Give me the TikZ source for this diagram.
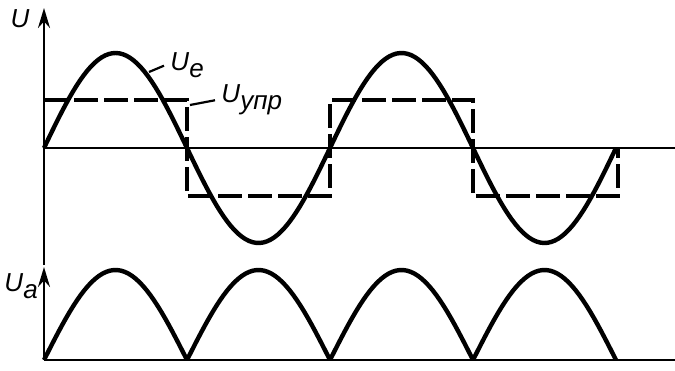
\documentclass[tikz,border=0pt]{standalone}
\usepackage{fontspec}
\setmainfont{Liberation Sans}
\usetikzlibrary{arrows.meta}

\newcommand{\volt}[1]{\textit{U}\raisebox{-3.5pt}{\itshape #1}}

\begin{document}
\begin{tikzpicture}[>={Stealth[length=10pt,width=6pt]}, x=0.5pt, y=0.5pt,
    axis/.style={line width=1.1pt},
    wave/.style={line width=2.2pt, line join=round},
    ctrl/.style={line width=1.6pt, dash pattern=on 12pt off 3pt},
    lbl/.style={font=\fontsize{13}{14}\selectfont, inner sep=0pt}]
  \useasboundingbox (0,0) rectangle (675,370);

  % Upper diagram: input voltage and control signal
  \draw[axis, ->] (44,105) -- (44,362);
  \draw[axis] (44,222) -- (675,222);
  \draw[wave] plot[domain=0:4, samples=160]
    ({44+143*\x}, {222+95*sin(180*\x)});
  \draw[ctrl] (44,270) -- (187,270) -- (187,174) -- (330,174) -- (330,270)
    -- (473,270) -- (473,174) -- (618,174) -- (618,222);

  % Lower diagram: rectified output
  \draw[axis, ->] (44,10) -- (44,103);
  \draw[axis] (44,10) -- (675,10);
  \foreach \k in {0,...,3} {
    \draw[wave] plot[domain=0:1, samples=40]
      ({44+143*(\k+\x)}, {10+90*sin(180*\x)});
  }

  % Labels
  \node[lbl, anchor=base] (lblU) at (20,342) {\textit{U}};
  \node[lbl, anchor=base west] (lblUa) at (4,79) {\volt{a}};
  \node[lbl, anchor=base west] (lblUe) at (170,299) {\volt{e}};
  \node[lbl, anchor=base west] (lblUupr) at (221,267) {\volt{упр}};
  \coordinate (ue) at (149,298);
  \coordinate (uupr) at (190,265);
  \draw[axis] (ue) -- ([xshift=-3pt]lblUe.west);
  \draw[axis] (uupr) -- ([xshift=-3pt]lblUupr.west);
\end{tikzpicture}
\end{document}
